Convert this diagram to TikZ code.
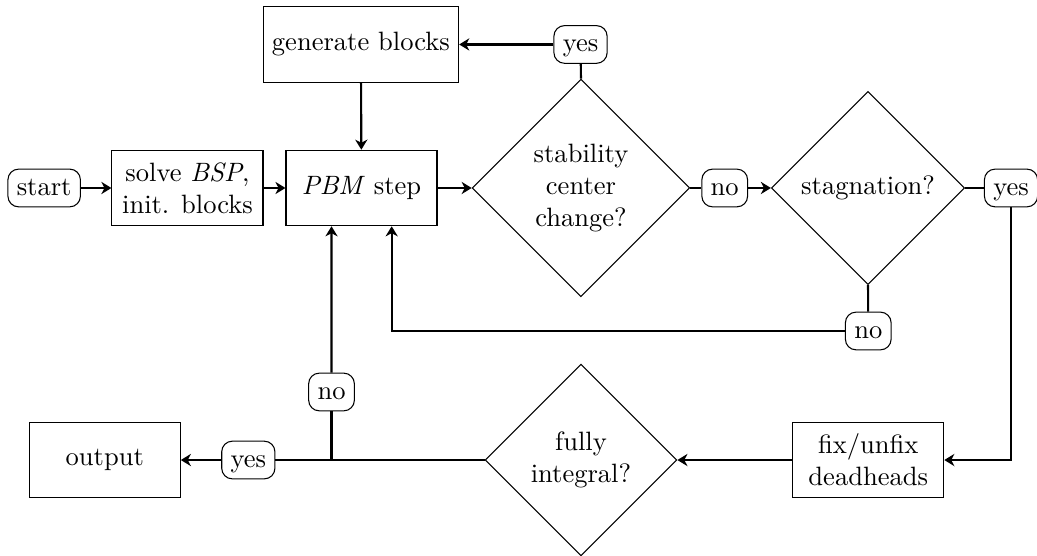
\documentclass[tikz,border=0pt]{standalone}
\usetikzlibrary{shapes.geometric,arrows.meta,calc}
\begin{document}
\begin{tikzpicture}[
  box/.style={draw, rectangle, minimum width=2cm, minimum height=1cm, align=center},
  lbl/.style={draw, rectangle, rounded corners=4pt, text height=1.5ex, text depth=.25ex},
  dec/.style={draw, diamond, shape aspect=1, align=center},
  conn/.style={thick},
  arr/.style={thick, -{Stealth[length=3.8pt,width=4.6pt,inset=1.2pt]}}
]
\useasboundingbox (0,0) rectangle (13.735,-7.364);
\node[lbl] (start) at (0.585,-2.490) {start};
\node[box] (solve) at (2.483,-2.490) {solve \textit{BSP},\\init. blocks};
\node[box] (pbm) at (4.788,-2.490) {\textit{PBM} step};
\node[box] (gen) at (4.78,-0.589) {generate blocks};
\node[lbl] (yt) at (7.689,-0.589) {yes};
\node[dec] (d1) at (7.695,-2.490) {stability\\center\\change?};
\node[lbl] (nm) at (9.599,-2.490) {no};
\node[dec] (d2) at (11.497,-2.490) {stagnation?};
\node[lbl] (yr) at (13.391,-2.490) {yes};
\node[lbl] (nb) at (11.50,-4.384) {no};
\node[box] (fix) at (11.50,-6.093) {fix/unfix\\deadheads};
\node[dec] (d3) at (7.695,-6.093) {fully\\integral?};
\node[lbl] (yb) at (3.289,-6.093) {yes};
\node[box] (out) at (1.388,-6.093) {output};
\node[lbl] (nl) at (4.391,-5.192) {no};
\coordinate (j) at (nl |- d3);
\coordinate (pl) at ($(pbm.south)+(-0.397,0)$);
\coordinate (pr) at ($(pbm.south)+(0.4,0)$);

\draw[arr] (start) -- (solve);
\draw[arr] (solve) -- (pbm);
\draw[arr] (pbm) -- (d1);
\draw[conn] (d1) -- (nm);
\draw[arr] (nm) -- (d2);
\draw[conn] (d1.north) -- (yt);
\draw[arr] (yt) -- (gen);
\draw[arr] (gen) -- (pbm);
\draw[conn] (d2) -- (yr);
\draw[arr] (yr) |- (fix.east);
\draw[conn] (d2.south) -- (nb);
\draw[arr] (nb) -| (pr);
\draw[arr] (fix) -- (d3);
\draw[conn] (d3.west) -- (yb);
\draw[arr] (yb) -- (out);
\draw[conn] (j) -- (nl);
\draw[arr] (nl) -- (pl);
\end{tikzpicture}
\end{document}
